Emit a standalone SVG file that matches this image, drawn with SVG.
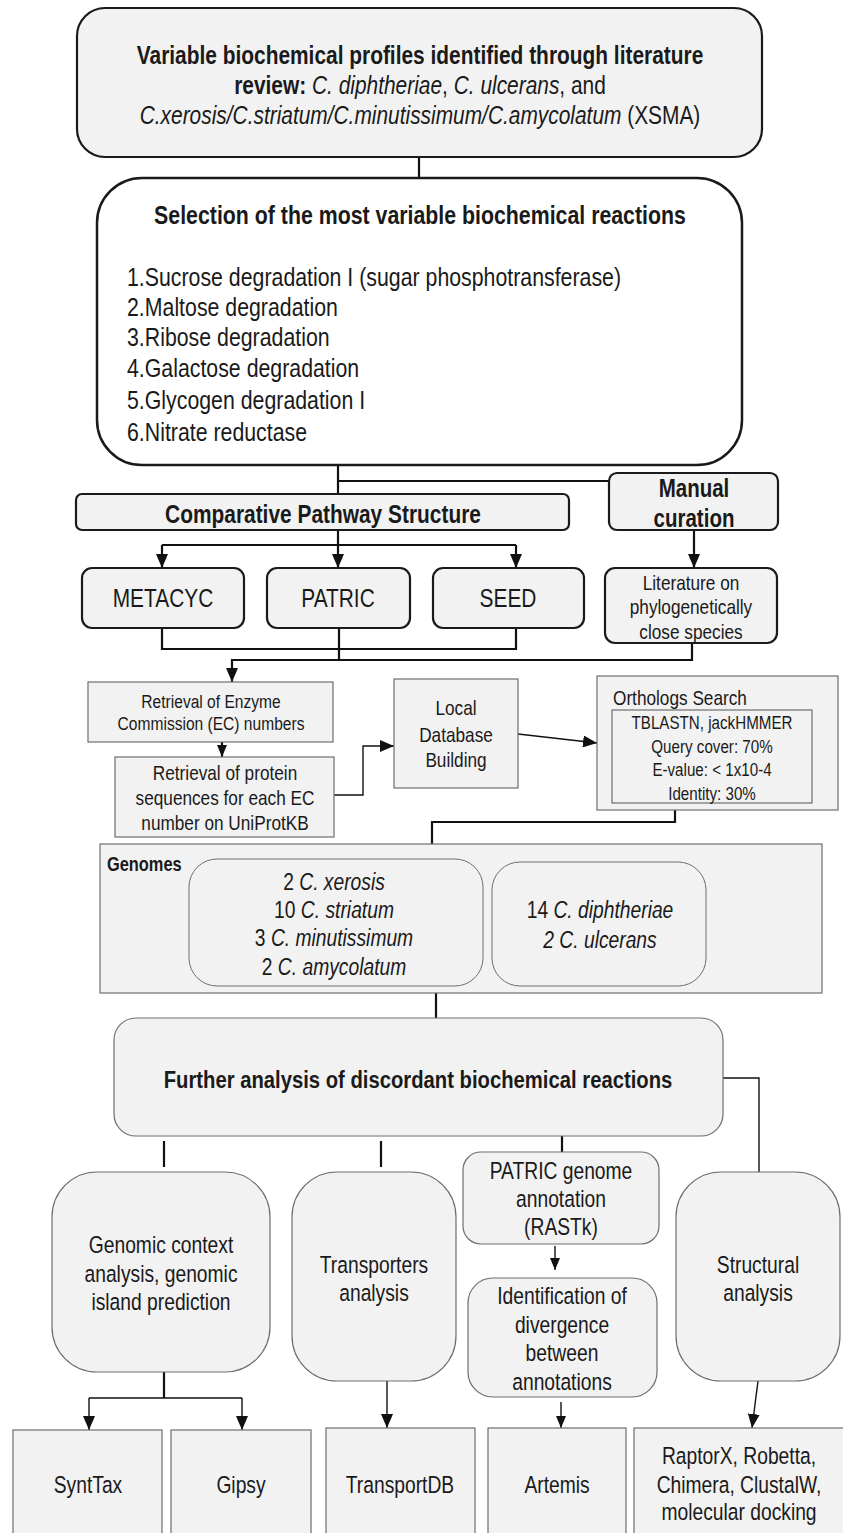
<svg xmlns="http://www.w3.org/2000/svg" width="843" height="1533" viewBox="0 0 843 1533">
<defs>
<style>
text{font-family:"Liberation Sans",Arial,sans-serif;fill:#1a1a1a}
.c{text-anchor:middle}
.b{font-weight:bold}
.i{font-style:italic}
.dk{fill:#f2f2f2;stroke:#1a1a1a;stroke-width:2.2}
.wh{fill:#ffffff;stroke:#1a1a1a;stroke-width:2.5}
.gr{fill:#f2f2f2;stroke:#6e6e6e;stroke-width:1.2}
.ln{fill:none;stroke:#111;stroke-width:2.2}
.lt{fill:none;stroke:#111;stroke-width:1.4}
</style>
<marker id="ah" viewBox="0 0 14 12" refX="14" refY="6" markerWidth="14" markerHeight="12" orient="auto" markerUnits="userSpaceOnUse"><path d="M0,0 L14,6 L0,12 Z" fill="#111"/></marker>
<marker id="as" viewBox="0 0 12 10" refX="12" refY="5" markerWidth="12" markerHeight="10" orient="auto" markerUnits="userSpaceOnUse"><path d="M0,0 L12,5 L0,10 Z" fill="#111"/></marker>
</defs>

<g id="connectors">
<line class="ln" x1="419" y1="157" x2="419" y2="178"/>
<line class="ln" x1="338" y1="465" x2="338" y2="494"/>
<line class="ln" x1="338" y1="481" x2="609" y2="481"/>
<line class="ln" x1="338" y1="530" x2="338" y2="545"/>
<line class="ln" x1="162" y1="545" x2="516" y2="545"/>
<line class="ln" x1="162" y1="545" x2="162" y2="568" marker-end="url(#ah)"/>
<line class="ln" x1="338" y1="545" x2="338" y2="568" marker-end="url(#ah)"/>
<line class="ln" x1="516" y1="545" x2="516" y2="568" marker-end="url(#ah)"/>
<line class="ln" x1="694" y1="530" x2="694" y2="568" marker-end="url(#ah)"/>
<polyline class="ln" points="162,628 162,649 516,649 516,628"/>
<line class="ln" x1="339" y1="628" x2="339" y2="660"/>
<polyline class="ln" points="692,643 692,660 232,660 232,682" marker-end="url(#ah)"/>
<line class="ln" x1="222" y1="742" x2="222" y2="757" marker-end="url(#as)"/>
<polyline class="lt" points="334,795 363,795 363,746 394,746" marker-end="url(#ah)"/>
<line class="lt" x1="518" y1="734" x2="597" y2="743" marker-end="url(#ah)"/>
<polyline class="ln" points="675,810 675,822 432,822 432,844"/>
<line class="ln" x1="436" y1="993" x2="436" y2="1018"/>
<polyline class="lt" points="723,1078 759,1078 759,1172"/>
<line class="ln" x1="164" y1="1141" x2="164" y2="1167"/>
<line class="ln" x1="381" y1="1141" x2="381" y2="1167"/>
<line class="ln" x1="562" y1="1136" x2="562" y2="1152"/>
<line class="lt" x1="555" y1="1246" x2="555" y2="1270" marker-end="url(#as)"/>
<line class="ln" x1="164" y1="1372" x2="164" y2="1398"/>
<line class="lt" x1="89" y1="1398" x2="242" y2="1398"/>
<line class="lt" x1="89" y1="1398" x2="89" y2="1430" marker-end="url(#ah)"/>
<line class="lt" x1="242" y1="1398" x2="242" y2="1430" marker-end="url(#ah)"/>
<line class="lt" x1="387" y1="1381" x2="387" y2="1428" marker-end="url(#ah)"/>
<line class="lt" x1="561" y1="1402" x2="561" y2="1428" marker-end="url(#as)"/>
<line class="lt" x1="758" y1="1381" x2="752" y2="1428" marker-end="url(#ah)"/>
</g>

<g id="n-profiles">
<rect class="dk" x="77" y="8" width="685" height="149" rx="28"/>
<text class="c b" transform="translate(420 64) scale(.82 1)" font-size="25.5">Variable biochemical profiles identified through literature</text>
<text class="c" transform="translate(420 94) scale(.82 1)" font-size="25.5"><tspan class="b">review:</tspan> <tspan class="i">C. diphtheriae</tspan>, <tspan class="i">C. ulcerans</tspan>, and</text>
<text class="c" transform="translate(420 124) scale(.82 1)" font-size="25.5"><tspan class="i">C.xerosis/C.striatum/C.minutissimum/C.amycolatum</tspan> (XSMA)</text>
</g>

<g id="n-selection">
<rect class="wh" x="97" y="178" width="645" height="287" rx="45"/>
<text class="c b" transform="translate(420 224) scale(.82 1)" font-size="26">Selection of the most variable biochemical reactions</text>
<text transform="translate(127 286) scale(.82 1)" font-size="26">1.Sucrose degradation I (sugar phosphotransferase)</text>
<text transform="translate(127 316) scale(.82 1)" font-size="26">2.Maltose degradation</text>
<text transform="translate(127 346) scale(.82 1)" font-size="26">3.Ribose degradation</text>
<text transform="translate(127 377) scale(.82 1)" font-size="26">4.Galactose degradation</text>
<text transform="translate(127 409) scale(.82 1)" font-size="26">5.Glycogen degradation I</text>
<text transform="translate(127 441) scale(.82 1)" font-size="26">6.Nitrate reductase</text>
</g>

<g id="n-cps">
<rect class="dk" x="76" y="494" width="493" height="36" rx="6"/>
<text class="c b" transform="translate(323 523) scale(.82 1)" font-size="25.5">Comparative Pathway Structure</text>
</g>

<g id="n-manual">
<rect class="dk" x="609" y="473" width="169" height="57" rx="8"/>
<text class="c b" transform="translate(694 497) scale(.82 1)" font-size="25">Manual</text>
<text class="c b" transform="translate(694 527) scale(.82 1)" font-size="25">curation</text>
</g>

<g id="n-metacyc">
<rect class="dk" x="82" y="568" width="162" height="60" rx="10"/>
<text class="c" transform="translate(163 607) scale(.82 1)" font-size="25.5">METACYC</text>
</g>
<g id="n-patric">
<rect class="dk" x="267" y="568" width="143" height="60" rx="10"/>
<text class="c" transform="translate(338 607) scale(.82 1)" font-size="25.5">PATRIC</text>
</g>
<g id="n-seed">
<rect class="dk" x="433" y="568" width="151" height="60" rx="10"/>
<text class="c" transform="translate(508 607) scale(.82 1)" font-size="25.5">SEED</text>
</g>
<g id="n-literature">
<rect class="dk" x="605" y="568" width="172" height="75" rx="10"/>
<text class="c" transform="translate(691 590) scale(.82 1)" font-size="21">Literature on</text>
<text class="c" transform="translate(691 614) scale(.82 1)" font-size="21">phylogenetically</text>
<text class="c" transform="translate(691 639) scale(.82 1)" font-size="21">close species</text>
</g>

<g id="n-ec">
<rect class="gr" x="88" y="682" width="245" height="60"/>
<text class="c" transform="translate(211 708) scale(.82 1)" font-size="19">Retrieval of Enzyme</text>
<text class="c" transform="translate(211 730) scale(.82 1)" font-size="19">Commission (EC) numbers</text>
</g>

<g id="n-uniprot">
<rect class="gr" x="115" y="757" width="219" height="80"/>
<text class="c" transform="translate(225 780) scale(.82 1)" font-size="21">Retrieval of protein</text>
<text class="c" transform="translate(225 805) scale(.82 1)" font-size="21">sequences for each EC</text>
<text class="c" transform="translate(225 830) scale(.82 1)" font-size="21">number on UniProtKB</text>
</g>

<g id="n-localdb">
<rect class="gr" x="394" y="679" width="124" height="109"/>
<text class="c" transform="translate(456 715) scale(.82 1)" font-size="21">Local</text>
<text class="c" transform="translate(456 742) scale(.82 1)" font-size="21">Database</text>
<text class="c" transform="translate(456 767) scale(.82 1)" font-size="21">Building</text>
</g>

<g id="n-orthologs">
<rect class="gr" x="597" y="676" width="241" height="134"/>
<text transform="translate(613 705) scale(.82 1)" font-size="21">Orthologs Search</text>
<rect class="gr" x="612" y="710" width="200" height="93"/>
<text class="c" transform="translate(712 729) scale(.82 1)" font-size="18.5">TBLASTN, jackHMMER</text>
<text class="c" transform="translate(712 753) scale(.82 1)" font-size="18.5">Query cover: 70%</text>
<text class="c" transform="translate(712 776) scale(.82 1)" font-size="18.5">E-value: &lt; 1x10-4</text>
<text class="c" transform="translate(712 800) scale(.82 1)" font-size="18.5">Identity: 30%</text>
</g>

<g id="n-genomes">
<rect class="gr" x="100" y="844" width="722" height="149"/>
<text class="b" transform="translate(107 871) scale(.82 1)" font-size="20">Genomes</text>
<rect fill="#f2f2f2" stroke="#6e6e6e" stroke-width="1" x="189" y="859" width="294" height="127" rx="28"/>
<text class="c" transform="translate(334 890) scale(.82 1)" font-size="23.5">2 <tspan class="i">C. xerosis</tspan></text>
<text class="c" transform="translate(334 918) scale(.82 1)" font-size="23.5">10 <tspan class="i">C. striatum</tspan></text>
<text class="c" transform="translate(334 946) scale(.82 1)" font-size="23.5">3 <tspan class="i">C. minutissimum</tspan></text>
<text class="c" transform="translate(334 975) scale(.82 1)" font-size="23.5">2 <tspan class="i">C. amycolatum</tspan></text>
<rect fill="#f2f2f2" stroke="#6e6e6e" stroke-width="1" x="492" y="862" width="214" height="124" rx="28"/>
<text class="c" transform="translate(600 918) scale(.82 1)" font-size="23.5">14 <tspan class="i">C. diphtheriae</tspan></text>
<text class="c i" transform="translate(600 948) scale(.82 1)" font-size="23.5">2 C. ulcerans</text>
</g>

<g id="n-further">
<rect class="gr" x="114" y="1018" width="609" height="118" rx="22"/>
<text class="c b" transform="translate(418 1088) scale(.82 1)" font-size="24.7">Further analysis of discordant biochemical reactions</text>
</g>

<g id="n-genomic">
<rect class="gr" x="52" y="1172" width="218" height="200" rx="45"/>
<text class="c" transform="translate(161 1253) scale(.82 1)" font-size="23.5">Genomic context</text>
<text class="c" transform="translate(161 1282) scale(.82 1)" font-size="23.5">analysis, genomic</text>
<text class="c" transform="translate(161 1310) scale(.82 1)" font-size="23.5">island prediction</text>
</g>

<g id="n-transporters">
<rect class="gr" x="292" y="1172" width="164" height="209" rx="45"/>
<text class="c" transform="translate(374 1273) scale(.82 1)" font-size="23.5">Transporters</text>
<text class="c" transform="translate(374 1301) scale(.82 1)" font-size="23.5">analysis</text>
</g>

<g id="n-patricann">
<rect class="gr" x="463" y="1152" width="196" height="92" rx="18"/>
<text class="c" transform="translate(561 1179) scale(.82 1)" font-size="23.5">PATRIC genome</text>
<text class="c" transform="translate(561 1207) scale(.82 1)" font-size="23.5">annotation</text>
<text class="c" transform="translate(561 1235) scale(.82 1)" font-size="23.5">(RASTk)</text>
</g>

<g id="n-identification">
<rect class="gr" x="468" y="1278" width="189" height="119" rx="25"/>
<text class="c" transform="translate(562 1304) scale(.82 1)" font-size="23.5">Identification of</text>
<text class="c" transform="translate(562 1333) scale(.82 1)" font-size="23.5">divergence</text>
<text class="c" transform="translate(562 1361) scale(.82 1)" font-size="23.5">between</text>
<text class="c" transform="translate(562 1390) scale(.82 1)" font-size="23.5">annotations</text>
</g>

<g id="n-structural">
<rect class="gr" x="676" y="1172" width="164" height="209" rx="45"/>
<text class="c" transform="translate(758 1273) scale(.82 1)" font-size="23.5">Structural</text>
<text class="c" transform="translate(758 1301) scale(.82 1)" font-size="23.5">analysis</text>
</g>

<g id="n-synttax">
<rect class="gr" x="13" y="1430" width="149" height="115"/>
<text class="c" transform="translate(88 1493) scale(.82 1)" font-size="23.5">SyntTax</text>
</g>
<g id="n-gipsy">
<rect class="gr" x="171" y="1430" width="140" height="115"/>
<text class="c" transform="translate(241 1493) scale(.82 1)" font-size="23.5">Gipsy</text>
</g>
<g id="n-transportdb">
<rect class="gr" x="326" y="1428" width="149" height="117"/>
<text class="c" transform="translate(400 1493) scale(.82 1)" font-size="23.5">TransportDB</text>
</g>
<g id="n-artemis">
<rect class="gr" x="488" y="1428" width="138" height="117"/>
<text class="c" transform="translate(557 1493) scale(.82 1)" font-size="23.5">Artemis</text>
</g>
<g id="n-tools">
<rect class="gr" x="634" y="1428" width="215" height="117"/>
<text class="c" transform="translate(739 1464) scale(.82 1)" font-size="23.5">RaptorX, Robetta,</text>
<text class="c" transform="translate(739 1493) scale(.82 1)" font-size="23.5">Chimera, ClustalW,</text>
<text class="c" transform="translate(739 1520) scale(.82 1)" font-size="23.5">molecular docking</text>
</g>
</svg>
